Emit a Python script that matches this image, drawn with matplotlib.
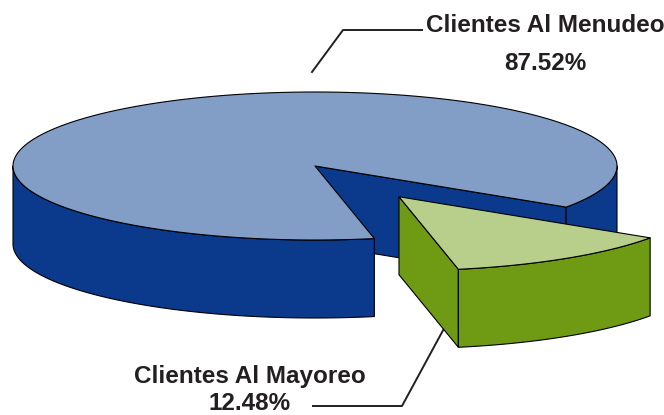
import numpy as np
import matplotlib
matplotlib.use('Agg')
import matplotlib.pyplot as plt
from matplotlib.patches import Polygon

labels = ['Clientes Al Menudeo', 'Clientes Al Mayoreo']
shares = [87.52, 12.48]
explode = [0.0, 0.5]

top_colors = ['#829EC6', '#B8CF8C']
side_colors = ['#0B3A8C', '#6F9A14']

# pie geometry (canvas units = pixels, y goes down)
cx, cy = 315, 166
rx, ry = 302, 74
depth = 78
mid_small = 56.2   # where the small slice points (deg, clockwise from 3 o'clock)

plt.rcParams['font.family'] = ['Liberation Sans', 'DejaVu Sans']

fig = plt.figure(figsize=(6.64, 4.15), dpi=100)
ax = fig.add_axes([0, 0, 1, 1])
ax.set_xlim(0, 664)
ax.set_ylim(415, 0)
ax.axis('off')


def pt(t, ox, oy, r=1.0, z=0.0):
    a = np.radians(t)
    return (ox + r * rx * np.cos(a), oy + r * ry * np.sin(a) + z)


def arc(t0, t1, ox, oy, z=0.0):
    ts = np.linspace(t0, t1, max(int(abs(t1 - t0)), 2) + 1)
    return [pt(t, ox, oy, z=z) for t in ts]


def visible_parts(t0, t1):
    # front half of the rim is where sin(t) > 0
    parts = []
    for k in range(-1, 3):
        lo, hi = max(t0, 360 * k), min(t1, 360 * k + 180)
        if hi > lo:
            parts.append((lo, hi))
    return parts


def face(pts, color, z):
    ax.add_patch(Polygon(pts, closed=True, facecolor=color, edgecolor='black',
                         linewidth=0.8, joinstyle='round', zorder=z))


# slice angles from the data
span_small = 360 * shares[1] / 100
starts = [mid_small + span_small / 2, mid_small - span_small / 2]
spans = [360 * shares[0] / 100, span_small]

z = 1
for i in range(len(shares)):
    t0 = starts[i]
    t1 = t0 + spans[i]
    mid = (t0 + t1) / 2
    ox = cx + explode[i] * rx * np.cos(np.radians(mid))
    oy = cy + explode[i] * ry * np.sin(np.radians(mid))

    # cut faces facing the viewer
    for t, sgn in [(t0, -1), (t1, 1)]:
        if np.sin(np.radians(t + sgn * 90)) > 0:
            face([(ox, oy), pt(t, ox, oy), pt(t, ox, oy, z=depth), (ox, oy + depth)],
                 side_colors[i], z)
    z += 1
    # outer rim
    for lo, hi in visible_parts(t0, t1):
        face(arc(lo, hi, ox, oy) + arc(hi, lo, ox, oy, z=depth), side_colors[i], z)
    z += 1
    # top
    face([(ox, oy)] + arc(t0, t1, ox, oy), top_colors[i], z)
    z += 1

# labels and leader lines
txt = dict(fontsize=17.5, fontweight='bold', color='#231F20', ha='center', va='center')
ax.text(545, 26, labels[0], **txt)
ax.text(545, 63, f'{shares[0]:.2f}%', **txt)
ax.plot([312, 343, 422], [72, 30, 30], color='#231F20', lw=1.4, zorder=0)

ax.text(250, 376, labels[1], **txt)
ax.text(250, 403, f'{shares[1]:.2f}%', **txt)
ax.plot([447, 402, 313], [323, 406, 406], color='#231F20', lw=1.4, zorder=0)

fig.savefig('out.png', dpi=100)
